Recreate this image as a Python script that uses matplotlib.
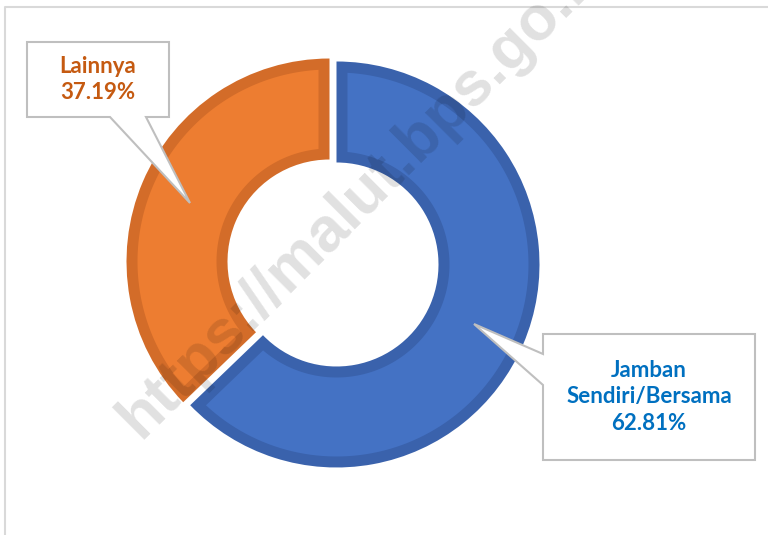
import numpy as np
import matplotlib.pyplot as plt
from matplotlib.patches import Polygon

# data
labels = ["Jamban\nSendiri/Bersama", "Lainnya"]
values = [62.81, 37.19]
colors = ["#4472C4", "#ED7D31"]
edge_colors = ["#3A62AC", "#D36C29"]
text_colors = ["#0070C0", "#C55A11"]

W, H = 768, 535
BAND = 11  # width of the darker inner outline, px


def px(x, y):
    # image pixel coords (y down) -> axes coords (y up)
    return (x, H - y)


def inset_ring(w, b):
    # lighter region of a donut wedge, inset by b on every side
    cx, cy = w.center
    r_out, r_in = w.r - b, w.r - w.width + b
    t1, t2 = np.radians(w.theta1), np.radians(w.theta2)
    d_out, d_in = np.arcsin(b / r_out), np.arcsin(b / r_in)
    a_out = np.linspace(t1 + d_out, t2 - d_out, 120)
    a_in = np.linspace(t2 - d_in, t1 + d_in, 120)
    xs = np.concatenate([cx + r_out * np.cos(a_out), cx + r_in * np.cos(a_in)])
    ys = np.concatenate([cy + r_out * np.sin(a_out), cy + r_in * np.sin(a_in)])
    return np.column_stack([xs, ys])


fig = plt.figure(figsize=(W / 100, H / 100), dpi=100)
ax = fig.add_axes([0, 0, 1, 1])

# frame of the original chart area (left + top only visible)
ax.plot([5, 5, W], [0, H - 7, H - 7], color="#D9D9D9", lw=1.5, zorder=0)

# donut: dark wedges, then lighter inset on top
wedges, _ = ax.pie(values, colors=edge_colors, startangle=90, counterclock=False,
                   radius=203, center=px(333, 263), explode=[3.8, 3.8],
                   wedgeprops=dict(width=101, linewidth=0), frame=True)
ax.set_xlim(0, W)
ax.set_ylim(0, H)
ax.set_aspect("auto")
ax.axis("off")
for w, fc in zip(wedges, colors):
    ax.add_patch(Polygon(inset_ring(w, BAND), closed=True, facecolor=fc,
                         edgecolor="none", zorder=w.get_zorder() + 0.1))

# callouts: box + pointer, drawn as one shape
callouts = [
    # (box left, top, right, bottom), pointer base, tip
    dict(box=(543, 334, 755, 460), side="left", base=(354, 385), tip=(474, 324)),
    dict(box=(27, 42, 169, 117), side="bottom", base=(110, 146), tip=(190, 203)),
]
for c, lab, val, tc in zip(callouts, labels, values, text_colors):
    x0, y0, x1, y1 = c["box"]
    b0, b1 = c["base"]
    if c["side"] == "left":
        pts = [(x0, y0), (x1, y0), (x1, y1), (x0, y1), (x0, b1), c["tip"], (x0, b0)]
    else:
        pts = [(x0, y0), (x1, y0), (x1, y1), (b1, y1), c["tip"], (b0, y1), (x0, y1)]
    poly = Polygon([px(*p) for p in pts], closed=True, facecolor="white",
                   edgecolor="#BFBFBF", lw=1.5, zorder=5)
    ax.add_patch(poly)
    cx, cy = px((x0 + x1) / 2, (y0 + y1) / 2)
    ax.text(cx, cy, f"{lab}\n{val:.2f}%", ha="center", va="center",
            color=tc, fontsize=16, fontweight="bold", family="Lato",
            linespacing=1.35, zorder=6)

# watermark
wx, wy = px(378, 203)
ax.text(wx, wy, "https://malut.bps.go.id", rotation=45, rotation_mode="anchor",
        ha="center", va="baseline", fontsize=45, fontweight="bold",
        family="Liberation Sans", color="black", alpha=0.12, zorder=10)

plt.savefig("out.png", dpi=100)
